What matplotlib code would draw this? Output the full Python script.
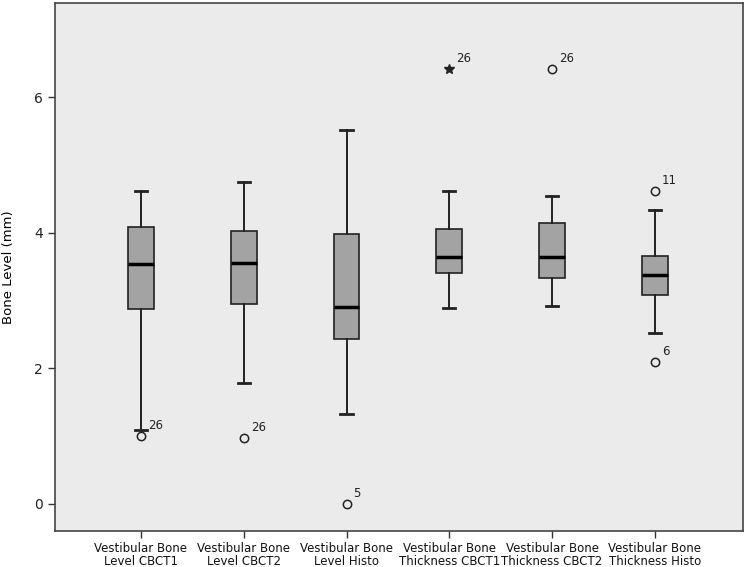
import numpy as np
import matplotlib.pyplot as plt

# box statistics (mm)
labels = ['Vestibular Bone\nLevel CBCT1', 'Vestibular Bone\nLevel CBCT2', 'Vestibular Bone\nLevel Histo',
          'Vestibular Bone\nThickness CBCT1', 'Vestibular Bone\nThickness CBCT2', 'Vestibular Bone\nThickness Histo']
whisker_low = [1.09, 1.78, 1.33, 2.89, 2.92, 2.52]
q1 = [2.87, 2.95, 2.44, 3.40, 3.34, 3.08]
median = [3.54, 3.56, 2.90, 3.64, 3.64, 3.38]
q3 = [4.09, 4.02, 3.98, 4.05, 4.15, 3.66]
whisker_high = [4.61, 4.75, 5.52, 4.62, 4.54, 4.34]

# outliers: (box index, value, case id, extreme?)
out_box = [0, 1, 2, 3, 4, 5, 5]
out_val = [1.00, 0.97, 0.00, 6.42, 6.42, 4.61, 2.09]
out_id = ['26', '26', '5', '26', '26', '11', '6']
out_extreme = [False, False, False, True, False, False, False]

stats = []
for i in range(len(labels)):
    stats.append(dict(med=median[i], q1=q1[i], q3=q3[i],
                      whislo=whisker_low[i], whishi=whisker_high[i],
                      fliers=[], label=labels[i]))

fig = plt.figure(figsize=(7.45, 5.67), dpi=100)
ax = fig.add_axes([0.0738, 0.0635, 0.9232, 0.9312])
ax.set_facecolor('#ebebeb')
fig.patch.set_facecolor('white')

pos = np.arange(1, len(labels) + 1)
ax.bxp(stats, positions=pos, widths=0.25, patch_artist=True, showfliers=False,
       boxprops=dict(facecolor='#a3a3a3', edgecolor='#222222', linewidth=1.2),
       medianprops=dict(color='black', linewidth=2.5),
       whiskerprops=dict(color='#222222', linewidth=1.4),
       capprops=dict(color='#222222', linewidth=2.0),
       capwidths=0.12)

for b, v, cid, ext in zip(out_box, out_val, out_id, out_extreme):
    x = pos[b]
    if ext:
        ax.plot(x, v, marker='*', markersize=7, color='#222222', linestyle='none')
    else:
        ax.plot(x, v, marker='o', markersize=6, markerfacecolor='none',
                markeredgecolor='#222222', markeredgewidth=1.1, linestyle='none')
    ax.annotate(cid, (x, v), xytext=(5, 3), textcoords='offset points',
                fontsize=8.5, color='#222222', ha='left', va='bottom')

ax.set_xlim(0.163, 6.856)
ax.set_ylim(-0.4, 7.39)
ax.set_yticks([0, 2, 4, 6])
ax.set_yticklabels(['0', '2', '4', '6'])
ax.set_xticks(pos)
ax.set_xticklabels(labels, fontsize=8.5, linespacing=0.95)
ax.tick_params(axis='y', labelsize=10, length=5, width=1, color='#333333', labelcolor='#222222')
ax.tick_params(axis='x', length=5, width=1, color='#333333', labelcolor='#111111', pad=3)
ax.set_ylabel('Bone Level (mm)', fontsize=9.5, labelpad=14)

for s in ax.spines.values():
    s.set_color('#444444')
    s.set_linewidth(1.2)

fig.savefig('out.png', dpi=100)
